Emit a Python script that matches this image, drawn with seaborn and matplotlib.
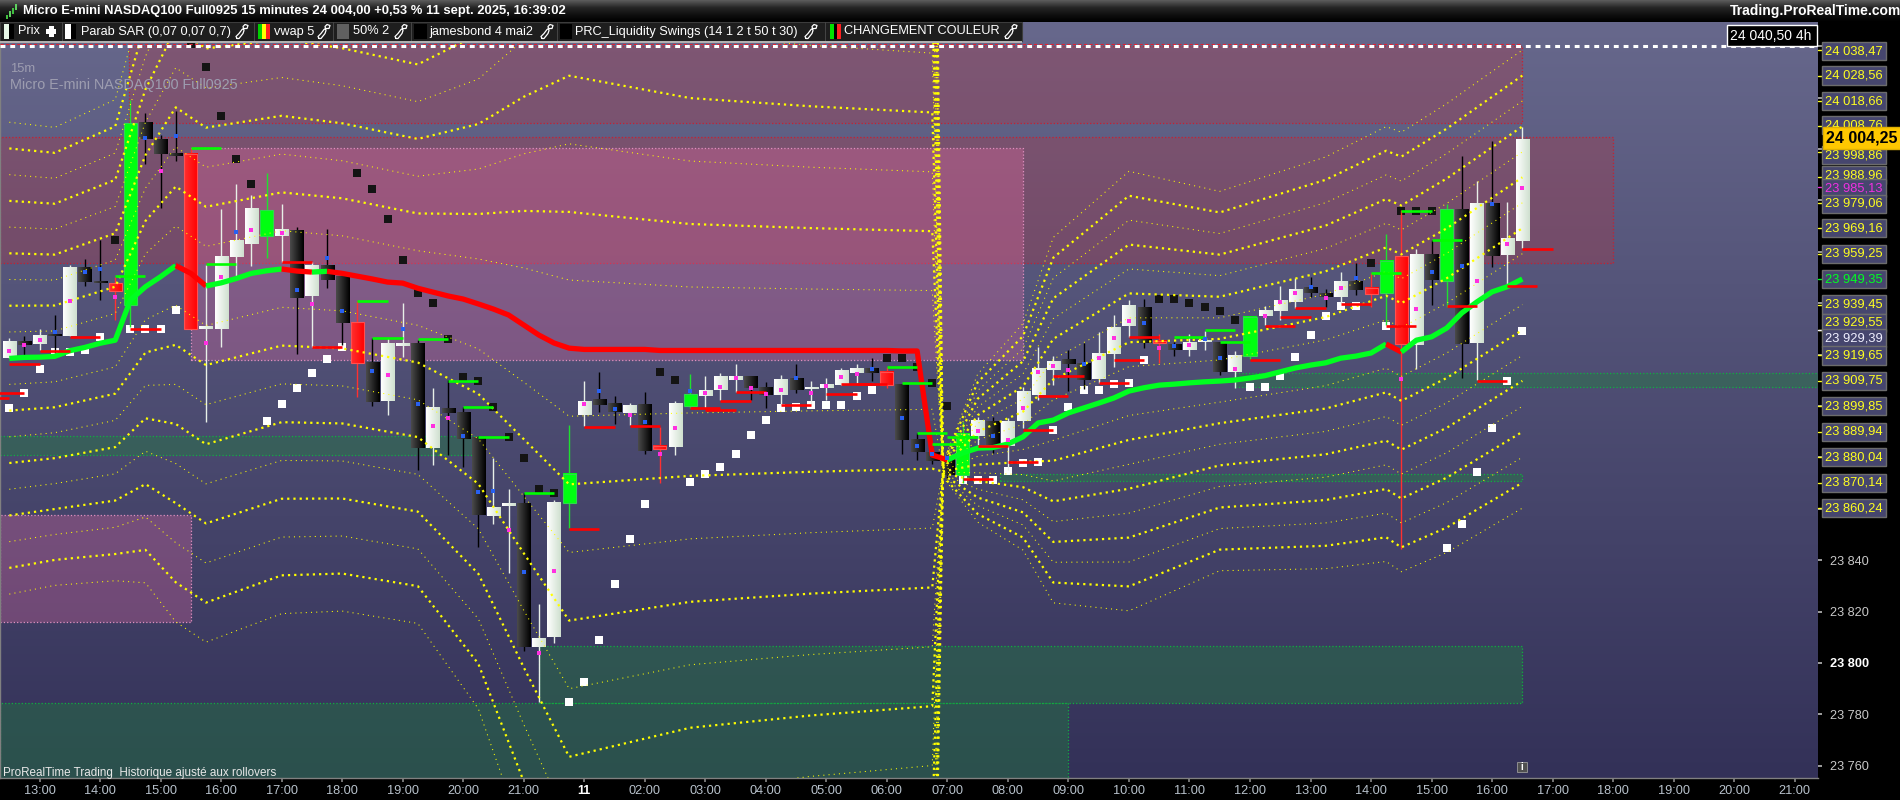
import numpy as np
import pandas as pd
import matplotlib.pyplot as plt
import matplotlib.transforms as mtrans
from matplotlib.colors import LinearSegmentedColormap
from matplotlib.lines import Line2D
from matplotlib.patches import Rectangle
import seaborn as sns

# ===== Data (points above BASE) =====
BASE = 23800

kinds = ("wkwkwkkrgk" "kkrwwwwgwk" "wkkrkwwkwk" "kkwwkwwgwk" "kwkrwgwwwk"
         "kwkwwwwkrk" "kkkgwkwwww" "kkwwwkrkww" "kwgwwwkkwk" "rgrwkgkwkw" "w")

highs = [126.4, 127.2, 129.9, 135.4, 154.8, 157.2, 164.5, 150.2, 219.0, 214.0,
         205.4, 214.7, 200.3, 154.8, 176.6, 186.3, 182.1, 190.6, 178.6, 169.6,
         156.0, 168.8, 150.2, 140.8, 126.4, 126.4, 140.0, 125.6, 107.0, 110.1,
         99.6, 88.3, 79.7, 67.7, 66.1, 23.0, 63.4, 92.6, 109.7, 113.2,
         103.9, 101.1, 105.4, 91.8, 101.9, 112.4, 111.6, 112.8, 116.3, 111.6,
         109.3, 112.0, 116.3, 109.7, 110.9, 114.8, 116.3, 118.6, 115.1, 108.1,
         89.5, 85.2, 80.9, 93.7, 95.7, 95.7, 95.3, 107.4, 122.9, 119.4,
         121.8, 124.5, 128.8, 135.4, 141.2, 141.6, 128.0, 124.9, 128.0, 129.1,
         124.5, 121.4, 134.6, 138.9, 146.7, 149.8, 150.2, 145.5, 152.1, 155.6,
         151.7, 166.9, 176.2, 161.0, 164.5, 178.6, 197.2, 187.5, 203.1, 179.3,
         208.5]
body_tops = [124.9, 124.9, 127.6, 127.6, 154.0, 154.0, 148.2, 147.8, 210.1, 210.4,
             203.8, 198.0, 198.0, 130.7, 158.3, 164.2, 177.0, 176.2, 168.8, 168.4,
             154.8, 154.8, 150.2, 132.6, 116.7, 124.1, 124.1, 124.1, 99.2, 99.2,
             97.3, 87.9, 60.7, 62.2, 62.2, 9.7, 62.6, 73.5, 101.9, 102.7,
             101.1, 100.4, 100.4, 84.4, 101.1, 104.6, 106.2, 111.3, 111.6, 111.3,
             107.4, 110.5, 110.5, 107.0, 108.5, 113.6, 114.4, 114.4, 113.2, 108.1,
             87.1, 82.1, 79.0, 89.1, 94.5, 94.1, 94.1, 105.4, 114.8, 117.5,
             117.9, 116.7, 120.6, 130.7, 138.9, 138.5, 125.3, 124.1, 124.9, 125.6,
             124.5, 119.8, 134.6, 137.3, 140.8, 145.1, 145.9, 143.9, 148.6, 148.6,
             145.9, 156.4, 158.3, 159.1, 159.1, 176.6, 176.6, 178.9, 178.6, 165.3,
             203.8]
body_bottoms = [118.6, 123.7, 124.1, 127.2, 127.2, 148.2, 147.8, 144.7, 139.3, 203.8,
                198.0, 197.2, 129.9, 129.9, 129.9, 157.9, 163.0, 166.1, 166.1, 142.0,
                142.8, 149.0, 132.3, 116.7, 101.5, 101.9, 123.3, 83.6, 83.6, 97.3,
                87.1, 57.6, 57.2, 61.1, 6.2, 6.2, 10.1, 62.2, 96.5, 100.4,
                97.6, 97.3, 82.5, 83.2, 84.0, 100.0, 103.9, 106.2, 110.1, 107.0,
                104.3, 104.3, 106.2, 106.6, 107.0, 108.1, 112.8, 112.8, 108.1, 86.7,
                82.1, 78.6, 73.1, 73.1, 88.3, 84.4, 84.4, 94.1, 104.3, 114.0,
                116.3, 110.1, 110.5, 120.2, 131.1, 124.5, 124.5, 121.8, 121.8, 124.9,
                113.2, 113.2, 119.4, 135.0, 136.9, 140.4, 143.9, 142.4, 142.4, 145.1,
                143.5, 143.9, 124.1, 123.7, 149.0, 148.6, 124.1, 124.5, 158.3, 158.7,
                164.2]
lows = [118.6, 119.8, 121.8, 120.6, 127.2, 146.7, 141.2, 133.4, 130.7, 194.1,
        177.0, 195.3, 129.9, 93.7, 122.9, 150.2, 154.4, 157.5, 156.0, 120.2,
        122.9, 145.9, 123.7, 103.5, 100.0, 96.5, 119.0, 75.1, 77.0, 80.9,
        76.2, 45.1, 54.1, 35.0, 4.7, -15.2, 7.8, 52.5, 92.2, 97.6,
        93.0, 92.6, 81.3, 70.0, 80.9, 99.2, 99.2, 102.3, 105.4, 102.3,
        99.2, 100.4, 105.0, 100.4, 102.3, 108.1, 108.9, 109.7, 107.0, 81.3,
        79.0, 77.4, 71.2, 70.0, 84.8, 81.7, 75.1, 91.4, 102.3, 108.1,
        105.8, 106.6, 108.9, 115.1, 126.8, 122.5, 116.7, 119.4, 119.4, 121.8,
        112.0, 107.0, 118.3, 131.5, 133.4, 138.1, 142.4, 138.5, 140.0, 143.2,
        138.5, 131.5, 44.3, 114.4, 139.3, 138.5, 110.9, 110.1, 154.0, 147.0,
        161.4]

mark_kinds = ("mmmbmbbm-b" "mb-mmbm-mb" "mbb-bmbbmm" "bbbmbmm-mb" "bmbmmbmmmm"
              "mmbmmmmb-b" "bbb-mbmmmm" "mbmmmbmbmb" "bm-mmmbmmb" "--mmb-bmbm" "m")
mark_vals = [121.4, 123.7, 125.6, 128.8, 140.8, 152.1, 153.3, 142.4, np.nan, 204.2,
             191.4, 205.0, np.nan, 124.5, 150.2, 167.7, 168.4, np.nan, 167.3, 145.1,
             139.7, 157.5, 136.9, np.nan, 113.6, 112.0, 129.9, 100.8, 92.2, 95.3,
             88.3, 66.5, 66.9, 51.7, 35.4, 3.9, 35.8, np.nan, 100.8, 105.8,
             98.8, 96.5, 93.7, 81.3, 91.4, 105.8, 105.0, 107.4, 110.9, 107.0,
             104.6, 106.2, 110.9, 105.0, 107.8, 111.3, 112.4, 114.4, np.nan, 95.3,
             84.4, 81.3, 79.7, np.nan, 90.2, 88.3, 86.7, 99.2, 113.2, 115.5,
             114.0, 116.3, 118.6, 126.4, 133.0, 132.3, 122.5, 123.3, 123.7, 126.0,
             118.6, 114.4, np.nan, 135.0, 140.4, 143.9, 146.3, 142.0, 145.9, 149.8,
             np.nan, np.nan, 110.5, 137.7, 152.1, np.nan, 154.4, 148.6, 178.6, 163.0,
             184.8]

sar_vals = [99.2, 105.0, 114.4, 121.0, 121.0, 121.8, 126.8, 164.5, 129.9, 129.9,
            129.9, 137.3, 240.8, 231.8, 212.8, 196.1, 186.3, 94.1, 100.8, 107.0,
            112.8, 118.3, 122.9, 190.6, 184.4, 172.7, 156.8, 143.9, 140.0, 126.0,
            111.3, 109.7, 99.6, 87.9, 79.7, 67.7, 66.1, -15.2, -7.4, 8.9,
            30.7, 48.2, 61.9, 113.2, 110.1, 70.4, 73.5, 76.2, 81.3, 88.7,
            94.5, 99.2, 99.6, 100.4, 100.4, 100.4, 103.9, 106.2, 118.6, 118.6,
            115.1, 108.9, 100.0, 71.2, 71.2, 71.2, 74.7, 77.8, 78.2, 90.6,
            99.6, 106.2, 106.2, 108.5, 108.9, 117.9, 141.6, 141.6, 140.0, 138.5,
            136.9, 133.4, 107.4, 107.4, 111.6, 119.0, 127.6, 135.0, 138.9, 138.9,
            155.6, 131.1, 175.8, 175.8, 175.8, 44.7, 54.1, 74.3, 91.4, 109.7,
            129.2]
sar_dark = [7, 12, 13, 14, 15, 16, 23, 24, 25, 26, 27, 28, 29, 30, 31, 32, 33, 34, 35, 36,
            43, 44, 58, 59, 60, 61, 62, 76, 77, 78, 79, 80, 81, 90, 92, 93, 94]

vwap = [118.5, 118.9, 119.0, 119.3, 121.5, 122.8, 124.4, 125.6, 141.2, 146.4,
        150.3, 154.6, 151.6, 146.7, 147.9, 149.6, 151.6, 152.6, 153.3, 152.5,
        152.1, 152.4, 151.6, 150.5, 149.4, 148.2, 147.8, 145.8, 144.3, 142.8,
        141.6, 139.7, 137.7, 135.4, 131.5, 127.6, 124.5, 122.5, 122.0, 122.0,
        122.0, 122.0, 122.0, 121.6, 121.6, 121.6, 121.6, 121.6, 121.6, 121.6,
        121.6, 121.6, 121.6, 121.6, 121.6, 121.6, 121.6, 121.6, 121.6, 121.4,
        121.4, 80.9, 79.0, 81.7, 83.6, 83.8, 85.2, 88.0, 93.4, 94.5,
        97.3, 99.2, 101.1, 103.1, 105.8, 107.1, 108.1, 108.5, 109.0, 109.4,
        109.7, 110.1, 110.9, 111.8, 113.3, 114.8, 115.9, 116.8, 118.6, 119.4,
        120.6, 124.1, 121.0, 125.6, 126.9, 130.3, 136.2, 140.5, 144.4, 146.4,
        149.4]

# swing levels: bar where the dash starts, price level
red_start = [-2, -1, 0, 2, 4, 8, 18, 20, 37, 38, 41, 45, 46, 47, 48, 51, 54, 55, 56,
             63, 64, 66, 67, 68, 69, 72, 73, 74, 82, 83, 84, 85, 88, 91, 95, 97, 99, 100]
red_level = [103.1, 105.0, 116.3, 121.4, 126.8, 129.9, 156.0, 122.9, 52.1, 91.8, 92.2,
             99.2, 98.4, 101.9, 105.4, 100.4, 104.6, 108.5, 108.5, 71.6, 84.4, 78.2,
             90.6, 103.9, 111.6, 108.9, 117.9, 126.8, 117.9, 131.1, 134.6, 138.1, 139.7,
             131.1, 138.9, 109.7, 146.7, 161.0]
green_start = [7, 12, 13, 23, 24, 27, 29, 30, 31, 34, 58, 59, 60, 61, 62, 77, 79, 80, 90, 92, 94]
green_level = [150.5, 200.3, 155.2, 140.8, 126.4, 126.0, 109.7, 99.6, 87.9, 66.1, 115.1,
               108.9, 89.5, 85.2, 87.9, 126.8, 129.5, 124.9, 151.7, 175.8, 164.5]

# envelope lines before the 07:00 reset
left_knots = [0, 3, 7, 9, 11, 13, 18, 22, 27, 31, 34, 37, 45, 53, 61, 61.7]
left_up1 = [128.8, 129.2, 136.0, 159.2, 170.0, 162.1, 168.2, 166.2, 160.4, 157.2, 153.7, 149.0, 146.3, 145.5, 144.9, 75.4]
left_up2 = [139.0, 139.1, 146.4, 172.0, 185.4, 177.5, 183.1, 180.8, 174.9, 174.7, 175.9, 175.5, 170.8, 169.2, 168.0, 75.7]
left_up3 = [149.2, 149.0, 156.8, 184.8, 200.8, 192.9, 198.0, 195.4, 189.4, 192.2, 198.1, 202.0, 195.3, 192.9, 191.1, 76.0]
left_up4 = [159.4, 158.9, 167.2, 197.6, 216.2, 208.3, 212.9, 210.0, 203.9, 209.7, 220.3, 228.5, 219.8, 216.6, 214.2, 76.3]
left_up5 = [169.6, 168.8, 177.6, 210.4, 231.6, 223.7, 227.8, 224.6, 218.4, 227.2, 242.5, 255.0, 244.3, 240.3, 237.3, 76.6]
left_up6 = [179.8, 178.7, 188.0, 223.2, 247.0, 239.1, 242.7, 239.2, 232.9, 244.7, 264.7, 281.5, 268.8, 264.0, 260.4, 76.9]
left_up7 = [190.0, 188.6, 198.4, 236.0, 262.4, 254.5, 257.6, 253.8, 247.4, 262.2, 286.9, 308.0, 293.3, 287.7, 283.5, 77.2]
left_up8 = [200.2, 198.5, 208.8, 248.8, 277.8, 269.9, 272.5, 268.4, 261.9, 279.7, 309.1, 334.5, 317.8, 311.4, 306.6, 77.5]
left_up9 = [210.4, 208.4, 219.2, 261.6, 293.2, 285.3, 287.4, 283.0, 276.4, 297.2, 331.3, 361.0, 342.3, 335.1, 329.7, 77.8]
left_dn1 = [108.4, 109.4, 115.2, 133.6, 139.2, 131.3, 138.4, 137.0, 131.4, 122.2, 109.3, 96.0, 97.3, 98.1, 98.7, 74.8]
left_dn2 = [98.2, 99.5, 104.8, 120.8, 123.8, 115.9, 123.5, 122.4, 116.9, 104.7, 87.1, 69.5, 72.8, 74.4, 75.6, 74.5]
left_dn3 = [88.0, 89.6, 94.4, 108.0, 108.4, 100.5, 108.6, 107.8, 102.4, 87.2, 64.9, 43.0, 48.3, 50.7, 52.5, 74.2]
left_dn4 = [77.8, 79.7, 84.0, 95.2, 93.0, 85.1, 93.7, 93.2, 87.9, 69.7, 42.7, 16.5, 23.8, 27.0, 29.4, 73.9]
left_dn5 = [67.6, 69.8, 73.6, 82.4, 77.6, 69.7, 78.8, 78.6, 73.4, 52.2, 20.5, -10.0, -0.7, 3.3, 6.3, 73.6]
left_dn6 = [57.4, 59.9, 63.2, 69.6, 62.2, 54.3, 63.9, 64.0, 58.9, 34.7, -1.7, -36.5, -25.2, -20.4, -16.8, 73.3]
left_dn7 = [47.2, 50.0, 52.8, 56.8, 46.8, 38.9, 49.0, 49.4, 44.4, 17.2, -23.9, -63.0, -49.7, -44.1, -39.9, 73.0]
left_dn8 = [37.0, 40.1, 42.4, 44.0, 31.4, 23.5, 34.1, 34.8, 29.9, -0.3, -46.1, -89.5, -74.2, -67.8, -63.0, 72.7]
left_dn9 = [26.8, 30.2, 32.0, 31.2, 16.0, 8.1, 19.2, 20.2, 15.4, -17.8, -68.3, -116.0, -98.7, -91.5, -86.1, 72.4]

# far lines that only show in the dotted column at the reset
column_knots = [61, 61.7]
column_thin = [[353.0, 78.1], [399.0, 78.7], [-109.0, 72.1], [-155.0, 71.5]]
column_thick = [[376.0, 78.4], [422.0, 79.0], [-132.0, 71.8], [-178.0, 71.2]]

# envelope lines after the reset, last values are the axis labels
right_knots = [61.7, 64, 67, 69, 74, 80, 87, 91, 92, 95, 100]
right_up1 = [75.4, 86.8, 92.9, 102.4, 115.3, 117.9, 125.7, 133.5, 130.5, 140.0, 159.25]
right_up2 = [75.7, 90.0, 97.8, 110.3, 124.8, 126.1, 134.6, 142.9, 140.0, 149.7, 169.16]
right_up3 = [76.0, 93.2, 102.7, 118.2, 134.3, 134.3, 143.5, 152.3, 149.5, 159.4, 179.06]
right_up4 = [76.3, 96.4, 107.6, 126.1, 143.8, 142.5, 152.4, 161.7, 159.0, 169.1, 188.96]
right_up5 = [76.6, 99.6, 112.5, 134.0, 153.3, 150.7, 161.3, 171.1, 168.5, 178.8, 198.86]
right_up6 = [76.9, 102.8, 117.4, 141.9, 162.8, 158.9, 170.2, 180.5, 178.0, 188.5, 208.76]
right_up7 = [77.2, 106.0, 122.3, 149.8, 172.3, 167.1, 179.1, 189.9, 187.5, 198.2, 218.66]
right_up8 = [77.5, 109.2, 127.2, 157.7, 181.8, 175.3, 188.0, 199.3, 197.0, 207.9, 228.56]
right_up9 = [77.8, 112.4, 132.1, 165.6, 191.3, 183.5, 196.9, 208.7, 206.5, 217.6, 238.47]
right_dn1 = [74.8, 80.4, 83.1, 86.6, 96.3, 101.5, 107.9, 114.7, 111.5, 120.6, 139.45]
right_dn2 = [74.5, 77.2, 78.2, 78.7, 86.8, 93.3, 99.0, 105.3, 102.0, 110.9, 129.55]
right_dn3 = [74.2, 74.0, 73.3, 70.8, 77.3, 85.1, 90.1, 95.9, 92.5, 101.2, 119.65]
right_dn4 = [73.9, 70.8, 68.4, 62.9, 67.8, 76.9, 81.2, 86.5, 83.0, 91.5, 109.75]
right_dn5 = [73.6, 67.6, 63.5, 55.0, 58.3, 68.7, 72.3, 77.1, 73.5, 81.8, 99.85]
right_dn6 = [73.3, 64.4, 58.6, 47.1, 48.8, 60.5, 63.4, 67.7, 64.0, 72.1, 89.94]
right_dn7 = [73.0, 61.2, 53.7, 39.2, 39.3, 52.3, 54.5, 58.3, 54.5, 62.4, 80.04]
right_dn8 = [72.7, 58.0, 48.8, 31.3, 29.8, 44.1, 45.6, 48.9, 45.0, 52.7, 70.14]
right_dn9 = [72.4, 54.8, 43.9, 23.4, 20.3, 35.9, 36.7, 39.5, 35.5, 43.0, 60.24]

# price zones: first bar, last bar, top, bottom
red_zones = [(7.9, 100, 240.0, 210.1), (-0.6, 106, 204.6, 155.6)]
pink_zones = [(12, 67, 200.3, 117.9), (-0.6, 12, 57.6, 15.9)]
green_zones = [(-0.6, 31, 88.3, 80.9), (35, 100, 6.6, -15.6), (-0.6, 70, -15.6, -45.0),
               (65.5, 100, 73.5, 70.8), (81, 120, 112.8, 107.4)]

# right axis boxes: price, height where the box sits, colour
label_prices = [24038.47, 24028.56, 24018.66, 24008.76, 23998.86, 23988.96, 23985.13, 23979.06,
                23969.16, 23959.25, 23949.35, 23939.45, 23929.55, 23929.39, 23919.65, 23909.75,
                23899.85, 23889.94, 23880.04, 23870.14, 23860.24]
label_at = [24038.0, 24028.56, 24018.66, 24009.3, 23997.6, 23989.8, 23984.8, 23978.6,
            23969.16, 23959.25, 23949.35, 23939.45, 23932.3, 23926.4, 23919.65, 23909.75,
            23899.85, 23889.94, 23880.04, 23870.14, 23860.24]
label_colors = ["#ffff20"] * 6 + ["#f030e0"] + ["#ffff20"] * 3 + ["#00ff20"] + ["#ffff20"] * 2 \
    + ["#f0f0ff"] + ["#ffff20"] * 7

hour_labels = ["13:00", "14:00", "15:00", "16:00", "17:00", "18:00", "19:00", "20:00", "21:00", "11",
               "02:00", "03:00", "04:00", "05:00", "06:00", "07:00", "08:00", "09:00", "10:00", "11:00",
               "12:00", "13:00", "14:00", "15:00", "16:00", "17:00", "18:00", "19:00", "20:00", "21:00"]
price_ticks = list(range(23760, 24041, 20))

# ===== Figure =====
sns.set_theme(style="dark")
plt.rcParams['font.family'] = ['Liberation Sans', 'DejaVu Sans']
W, H = 1900, 800
fig = plt.figure(figsize=(19, 8), dpi=100, facecolor="black")
ax = fig.add_axes([0, 1 - 778 / H, 1818 / W, (778 - 22) / H])
ax.set_facecolor("#333158")

xlim = (-0.615, 119.54)
ylim = (BASE - 44.75, BASE + 249.4)


def fig_rect(x, y, w, h, **kw):
    fig.add_artist(Rectangle((x / W, 1 - (y + h) / H), w / W, h / H, transform=fig.transFigure, **kw))


def fig_txt(x, y, s, **kw):
    fig.text(x / W, 1 - y / H, s, va="center", **kw)


def draw_line(xs, ys, color, lw, style="-", z=5):
    sns.lineplot(x=xs, y=np.asarray(ys) + BASE, color=color, linewidth=lw, linestyle=style,
                 estimator=None, sort=False, errorbar=None, solid_capstyle="butt", ax=ax, zorder=z)


# background
bg_cmap = LinearSegmentedColormap.from_list("bg", ["#67688c", "#333158"])
ax.imshow(np.linspace(0, 1, 256).reshape(-1, 1), extent=(*xlim, *ylim), aspect="auto", cmap=bg_cmap, zorder=0)

# zones
for x0, x1, top, bot in red_zones:
    ax.add_patch(Rectangle((x0, BASE + bot), x1 - x0, top - bot, fc=(0.72, 0.2, 0.25, 0.3),
                           ec="#c82030", ls=":", lw=0.9, zorder=1))
for x0, x1, top, bot in pink_zones:
    ax.add_patch(Rectangle((x0, BASE + bot), x1 - x0, top - bot, fc=(0.98, 0.43, 0.67, 0.27),
                           ec="#e090c0", ls=":", lw=0.9, zorder=1.2))
for x0, x1, top, bot in green_zones:
    ax.add_patch(Rectangle((x0, BASE + bot), x1 - x0, top - bot, fc=(0.12, 0.5, 0.24, 0.4),
                           ec="#10b040", ls=":", lw=0.9, zorder=1.2))

# Parabolic SAR squares
bars = np.arange(len(kinds))
sar_df = pd.DataFrame({"bar": bars, "price": np.array(sar_vals) + BASE, "dark": np.isin(bars, sar_dark)})
sns.scatterplot(data=sar_df[~sar_df["dark"]], x="bar", y="price", marker="s", s=30, color="white",
                linewidth=0, ax=ax, zorder=2)
sns.scatterplot(data=sar_df[sar_df["dark"]], x="bar", y="price", marker="s", s=30, color="#141414",
                linewidth=0, ax=ax, zorder=2)

# candles
gradients = {"w": ["#ffffff", "#cfe0cf"], "k": ["#4a4a4a", "#000000"],
             "g": ["#00ff10", "#00ff10"], "r": ["#ff3030", "#ff0000"]}
wick_colors = {"w": "#e8f0e8", "k": "#000000", "g": "#20e030", "r": "#ff3030"}
edge_colors = {"g": "#30d850", "r": "#ff5050"}
for i, kind in enumerate(kinds):
    ax.vlines(i, BASE + lows[i], BASE + highs[i], colors=wick_colors[kind], lw=1.0, zorder=3)
    cmap = LinearSegmentedColormap.from_list(kind, gradients[kind])
    ax.imshow(np.linspace(0, 1, 32).reshape(1, -1), cmap=cmap, aspect="auto", interpolation="bilinear",
              extent=(i - 0.43, i + 0.43, BASE + body_bottoms[i], BASE + body_tops[i]), zorder=3.5)
    if kind in edge_colors:
        ax.add_patch(Rectangle((i - 0.43, BASE + body_bottoms[i]), 0.86, body_tops[i] - body_bottoms[i],
                               fc="none", ec=edge_colors[kind], lw=0.8, zorder=3.6))

# envelopes, thin and thick lines take turns
left_thin = [left_up1, left_up3, left_up5, left_up7, left_up9, left_dn1, left_dn3, left_dn5, left_dn7, left_dn9]
left_thick = [left_up2, left_up4, left_up6, left_up8, left_dn2, left_dn4, left_dn6, left_dn8]
right_thin = [right_up1, right_up3, right_up5, right_up7, right_up9, right_dn1, right_dn3, right_dn5, right_dn7, right_dn9]
right_thick = [right_up2, right_up4, right_up6, right_up8, right_dn2, right_dn4, right_dn6, right_dn8]
for knots, thin, thick in [(left_knots, left_thin, left_thick), (right_knots, right_thin, right_thick),
                           (column_knots, column_thin, column_thick)]:
    for vals in thin:
        draw_line(knots, vals, "#ffff00", 0.75, (0, (1, 4)))
    for vals in thick:
        draw_line(knots, vals, "#ffff00", 1.6, (0, (1, 1.8)))

# vwap colour follows the slope
slope_up = [vwap[i + 1] > vwap[i] for i in range(len(vwap) - 1)]
start = 0
for i in range(1, len(slope_up) + 1):
    if i == len(slope_up) or slope_up[i] != slope_up[start]:
        col = "#00ff20" if slope_up[start] else "#ff0000"
        draw_line(list(bars[start:i + 1]), vwap[start:i + 1], col, 3.8, "-", 5.2)
        start = i

# swing levels
for s, lev in zip(red_start, red_level):
    draw_line([s, s + 2], [lev, lev], "#ff0000", 1.9, "-", 5.5)
for s, lev in zip(green_start, green_level):
    draw_line([s, s + 2], [lev, lev], "#00ff00", 1.9, "-", 5.5)

# small markers inside the candles
mark_df = pd.DataFrame({"bar": bars, "price": np.array(mark_vals) + BASE, "kind": list(mark_kinds)})
sns.scatterplot(data=mark_df[mark_df["kind"] == "m"], x="bar", y="price", marker="s", s=9,
                color="#ff30e0", linewidth=0, ax=ax, zorder=6)
sns.scatterplot(data=mark_df[mark_df["kind"] == "b"], x="bar", y="price", marker="s", s=9,
                color="#2860f0", linewidth=0, ax=ax, zorder=6)

# last high
draw_line([xlim[0], 100], [240.9, 240.9], "#e02030", 0.8, (0, (3, 2)), 6.5)
draw_line(list(xlim), [240.0, 240.0], "white", 2.2, (0, (1.6, 1.6)), 7)

# ===== Axes =====
ax.set_xlim(xlim)
ax.set_ylim(ylim)
ax.set_xlabel("")
ax.set_ylabel("")
ax.grid(False)
for side in ["top", "right"]:
    ax.spines[side].set_visible(False)
for side in ["left", "bottom"]:
    ax.spines[side].set_color("#808080")
    ax.spines[side].set_linewidth(1.0)

ax.set_xticks(bars[2::4].tolist() + [102 + 4 * n for n in range(5)])
ax.set_xticklabels(hour_labels, fontsize=9.2, color="#b8c2cc")
ax.get_xticklabels()[9].set_fontweight("bold")
ax.get_xticklabels()[9].set_color("white")
ax.tick_params(axis="x", bottom=True, length=3, color="#808080", pad=2)

# the higher round prices sit behind the boxes, only the low ones can be read
ax.yaxis.tick_right()
ax.set_yticks(price_ticks)
ax.set_yticklabels([f"{p:,}".replace(",", " ") if p <= 23840 else "" for p in price_ticks],
                   fontsize=9.2, color="#c8c8c8")
ax.get_yticklabels()[2].set_fontweight("bold")
ax.get_yticklabels()[2].set_color("white")
ax.tick_params(axis="y", right=True, length=3, color="#b0b0b0", pad=6)

# right axis boxes
label_tr = mtrans.blended_transform_factory(fig.transFigure, ax.transData)
for price, at, col in zip(label_prices, label_at, label_colors):
    ax.plot([1.0, 1.0024], [price, price], transform=ax.get_yaxis_transform(), clip_on=False, color=col,
            lw=1.0, zorder=9, scaley=False, scalex=False)
    ax.text(1825 / W, at, f"{price:,.2f}".replace(",", " ").replace(".", ","), transform=label_tr, color=col,
            fontsize=9.3, va="center", ha="left", clip_on=False, zorder=10,
            bbox=dict(boxstyle="square,pad=0.24", fc="#46466e", ec="#6c6c6c", lw=1.0))
ax.text(1826 / W, 204.25 + BASE, "24 004,25", transform=label_tr, color="black", fontsize=11.5, fontweight="bold",
        va="center", ha="left", clip_on=False, zorder=11,
        bbox=dict(boxstyle="square,pad=0.2", fc="#ffc800", ec="#e0b000", lw=1.0))

# ===== Header and overlays =====
head = fig.add_axes([0, 1 - 22 / H, 1, 22 / H])
head_cmap = LinearSegmentedColormap.from_list("head", ["#5a5a5a", "#262626", "#101010", "#000000"])
head.imshow(np.linspace(0, 1, 22).reshape(-1, 1), aspect="auto", cmap=head_cmap)
head.axis("off")

for x, y0, y1, col in [(6, 15, 19, "#40c040"), (9, 11, 17, "#60d060"), (12, 8, 14, "#40c040"), (15, 4, 10, "#60d060")]:
    fig_rect(x, y0, 2, y1 - y0, fc=col, lw=0)
fig_txt(23, 11, "Micro E-mini NASDAQ100 Full0925 15 minutes 24 004,00 +0,53 % 11 sept. 2025, 16:39:02",
        color="white", fontsize=9.4, fontweight="bold")
fig_txt(1730, 11, "Trading.ProRealTime.com", color="white", fontsize=10, fontweight="bold")

# indicator row
fig_rect(0, 22, 1022, 19, fc="#1e1e1e", ec="#3c3c3c", lw=0.8)
fig_rect(0, 41, 1022, 1.5, fc="#b0b0b0", lw=0)
for x in [62, 254, 333, 410.5, 556.5, 825]:
    fig_rect(x, 22, 1, 19, fc="#444444", lw=0)
row_texts = [(18, "Prix"), (81, "Parab SAR (0,07 0,07 0,7)"), (274, "vwap 5"), (353, "50% 2"),
             (429, "jamesbond 4 mai2"), (575, "PRC_Liquidity Swings (14 1 2 t 50 t 30)"), (844, "CHANGEMENT COULEUR")]
for x, s in row_texts:
    fig_txt(x, 31.5, s, color="white", fontsize=9.2)
for x, w, col in [(3.5, 5, "#e8f8e8"), (8.5, 5, "black"), (64.5, 6, "white"), (70.5, 5, "black"),
                  (257.5, 4, "#00d000"), (261.5, 4, "#ffff00"), (265.5, 4, "#ff2020"),
                  (337, 12, "#606060"), (414, 13, "black"), (560, 12, "black"),
                  (830, 4, "#00e000"), (834, 3, "black"), (837, 4, "#ff2020")]:
    fig_rect(x, 24, w, 15, fc=col, lw=0)
fig_rect(46, 29, 10, 5, fc="white", lw=0)
fig_rect(48.5, 26, 5, 11, fc="white", lw=0)
wrench_x = [241, 323, 400, 546, 810, 1010]
wrench_dx = [-4, -2, 2, 3, 2, 4, 7, 6, 3, 1, -2, -5, -4]
wrench_dy = [7, 7, 2, -1, -5, -7, -6, -3, -3, -2, 2, 5, 7]
for x in wrench_x:
    fig.add_artist(Line2D([(x + d) / W for d in wrench_dx], [1 - (31.5 + d) / H for d in wrench_dy],
                          transform=fig.transFigure, color="white", lw=0.9))

# box with the last high
fig_rect(1727, 25, 90, 20.5, fc="black", ec="white", lw=1.0)
fig_txt(1730, 35.5, "24 040,50 4h", color="white", fontsize=10)

fig_txt(10, 69, "15m", color="#9d9db0", fontsize=9.4)
fig_txt(10, 85, "Micro E-mini NASDAQ100 Full0925", color="#9d9db0", fontsize=10.4)
fig_txt(3, 773, "ProRealTime Trading  Historique ajusté aux rollovers", color="#e8e8e8", fontsize=8.4)
fig_rect(1517, 762, 10, 10, fc="#505050", ec="#9a9a9a", lw=0.6)
fig_txt(1522, 767, "i", color="white", fontsize=7, fontweight="bold", ha="center")

fig.savefig("out.png", dpi=100, facecolor="black")
